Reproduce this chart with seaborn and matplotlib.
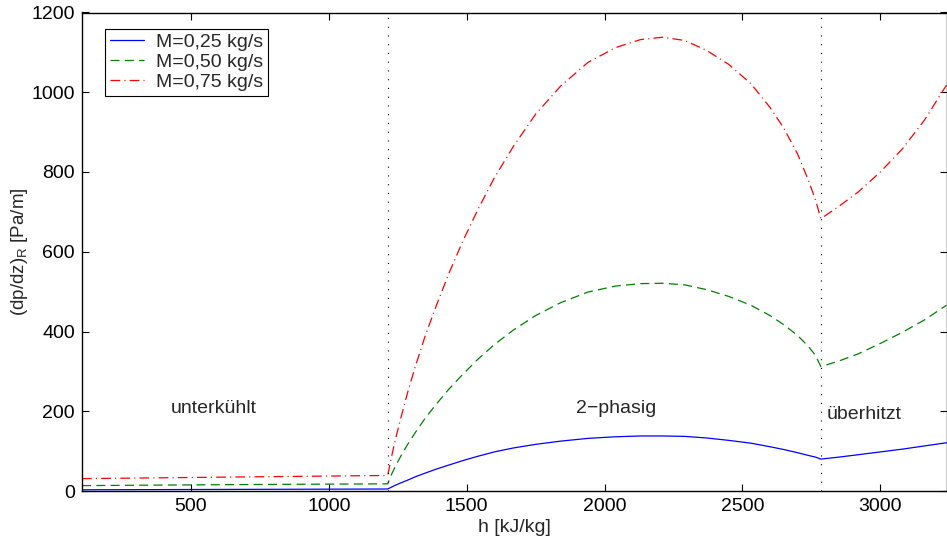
import matplotlib
matplotlib.use("Agg")
import matplotlib.pyplot as plt
import seaborn as sns
import pandas as pd

# Enthalpy grid [kJ/kg] shared by all three mass flows
h = [105, 650, 1213.7,
     1225, 1240, 1260, 1285, 1315, 1350, 1390, 1435, 1485, 1540, 1600, 1670,
     1750, 1840, 1940, 2040, 2130, 2210, 2290, 2370, 2450, 2530, 2600, 2650,
     2700, 2740, 2765, 2784.3,
     2850, 2920, 3000, 3080, 3160, 3240]

# Frictional pressure gradient (dp/dz)_R [Pa/m]
dp_025 = [3, 4, 5,
          9, 14, 20, 27, 36, 45, 55, 65, 76, 87, 98, 108,
          117, 125, 132, 136, 138, 138, 137, 133, 127, 120, 111, 104,
          96, 89, 85, 80,
          85, 91, 98, 105, 113, 121]
dp_050 = [13.5, 16, 18,
          38, 60, 86, 116, 148, 183, 218, 255, 292, 330, 367, 404,
          440, 472, 499, 514, 520, 521, 517, 505, 488, 466, 440, 417,
          390, 362, 340, 312,
          326, 344, 370, 398, 429, 466]
dp_075 = [31, 35, 39,
          78, 125, 180, 245, 315, 390, 465, 545, 625, 705, 785, 865,
          945, 1015, 1075, 1112, 1132, 1138, 1130, 1105, 1070, 1022, 962, 910,
          845, 778, 730, 683,
          714, 750, 800, 858, 930, 1018]

labels = ["M=0,25 kg/s", "M=0,50 kg/s", "M=0,75 kg/s"]
colors = ["#0000ff", "#008000", "#ff0000"]
styles = ["-", (0, (6.5, 3.8)), (0, (7, 3, 0.8, 3))]

# Saturation enthalpies (boundaries of the two-phase region)
h_sat_liq = 1213.7
h_sat_vap = 2784.3

regions = ["unterkühlt", "2\u2212phasig", "überhitzt"]
region_h = [581, 2041, 2942]
region_dp = [206, 206, 191]

sns.set_theme(style="white")
plt.rcParams["font.family"] = ["Liberation Sans", "DejaVu Sans"]
plt.rcParams["mathtext.default"] = "regular"
plt.rcParams["lines.scale_dashes"] = False

df = pd.DataFrame({
    "h": h * 3,
    "dp": dp_025 + dp_050 + dp_075,
    "M": [labels[0]] * len(h) + [labels[1]] * len(h) + [labels[2]] * len(h),
})

fig = plt.figure(figsize=(9.47, 5.45), dpi=100)
ax = fig.add_axes([82 / 947, 54 / 545, 864.5 / 947, 478.5 / 545])

for lab, col, ls in zip(labels, colors, styles):
    sub = df[df["M"] == lab]
    sns.lineplot(data=sub, x="h", y="dp", ax=ax, color=col, linestyle=ls,
                 linewidth=0.9, label=lab, sort=False, errorbar=None)

for hv in (h_sat_liq, h_sat_vap):
    ax.axvline(hv, color="black", linestyle=(0, (0.8, 5.5)), linewidth=0.8)

for txt, hx, dy in zip(regions, region_h, region_dp):
    ax.text(hx, dy, txt, ha="center", va="center", fontsize=14)

ax.set_xlim(105, 3240)
ax.set_ylim(0, 1200)
ax.set_xticks([500, 1000, 1500, 2000, 2500, 3000])
ax.set_yticks([0, 200, 400, 600, 800, 1000, 1200])
ax.set_xlabel("h [kJ/kg]", fontsize=14, labelpad=3)
ax.set_ylabel("(dp/dz)$_R$ [Pa/m]", fontsize=13.5, labelpad=1)

ax.tick_params(direction="in", length=5, width=0.8, colors="black",
               labelsize=14, top=True, right=True, bottom=True, left=True,
               labelcolor="black", pad=5)
for sp in ax.spines.values():
    sp.set_color("black")
    sp.set_linewidth(1.0)
    sp.set_visible(True)

leg = ax.legend(loc="upper left", bbox_to_anchor=(0.0266, 0.966), fontsize=14,
                frameon=True, fancybox=False, edgecolor="black",
                framealpha=1, handlelength=1.75, borderpad=0.25,
                labelspacing=0.12, handletextpad=0.6, borderaxespad=0)
leg.get_frame().set_linewidth(0.8)

fig.savefig("out.png", dpi=100)
